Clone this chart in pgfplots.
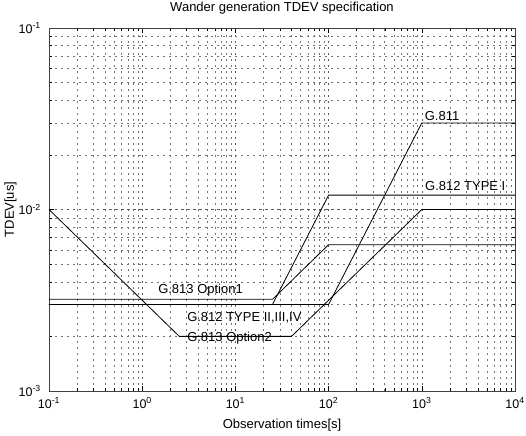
\documentclass[border=0pt]{standalone}
\usepackage{fontspec}
\setmainfont{Liberation Sans}
\usepackage{pgfplots}
\pgfplotsset{compat=1.18}
\usetikzlibrary{calc}
\begin{document}
\begin{tikzpicture}
\begin{axis}[
  scale only axis, width=466pt, height=363pt,
  xmode=log, ymode=log,
  xmin=0.1, xmax=10000, ymin=0.001, ymax=0.1,
  xtick={0.1,1,10,100,1000,10000},
  xticklabels={10\textsuperscript{-1},10\textsuperscript{0},10\textsuperscript{1},10\textsuperscript{2},10\textsuperscript{3},10\textsuperscript{4}},
  ytick={0.001,0.01,0.1},
  yticklabels={10\textsuperscript{-3},10\textsuperscript{-2},10\textsuperscript{-1}},
  tick label style={font=\fontsize{12.5}{14}\selectfont},
  xticklabel style={anchor=base, yshift=-17pt},
  yticklabel style={anchor=east, inner sep=0pt, xshift=-8pt},
  title={Wander generation TDEV specification},
  title style={font=\fontsize{13}{15}\selectfont, at={(axis description cs:0.5,1.0303)}, anchor=base, inner sep=0pt},
  xlabel={Observation times[s]},
  xlabel style={font=\fontsize{13}{15}\selectfont, at={(axis description cs:0.5,-0.1019)}, anchor=base, inner sep=0pt},
  ylabel={TDEV[us]},
  ylabel style={font=\fontsize{13}{15}\selectfont, at={(axis description cs:-0.0751,0.5)}, anchor=base, inner sep=0pt},
  grid=both,
  major grid style={black!65, dash pattern=on 2.5pt off 3.5pt, line width=0.5pt},
  minor grid style={black!55, dash pattern=on 2pt off 4pt, line width=0.45pt},
  tick align=inside,
  axis line style={black!75, line width=0.5pt},
  every tick/.style={black},
  major tick length=5pt, minor tick length=3pt,
  clip=false,
]
% G.811
\addplot[black, line width=0.8pt] coordinates {(0.1,0.003) (100,0.003) (1000,0.03) (10000,0.03)};
% G.812 Type I
\addplot[black, line width=0.8pt] coordinates {(0.1,0.003) (25,0.003) (100,0.012) (10000,0.012)};
% G.813 Option 1
\addplot[black, line width=0.8pt] coordinates {(0.1,0.0032) (25,0.0032) (100,0.0064) (10000,0.0064)};
% G.812 Type II,III,IV / G.813 Option 2
\addplot[black, line width=0.8pt] coordinates {(0.1,0.01) (2.5,0.002) (40,0.002) (1000,0.01) (10000,0.01)};

\node[anchor=west, inner sep=0pt, font=\fontsize{13}{15}\selectfont] at (axis cs:1072,0.0327) {G.811};
\node[anchor=west, inner sep=0pt, font=\fontsize{13}{15}\selectfont] at (axis cs:1081,0.0135) {G.812 TYPE I};
\node[anchor=west, inner sep=0pt, font=\fontsize{13}{15}\selectfont] at (axis cs:1.48,0.0036) {G.813 Option1};
\node[anchor=west, inner sep=0pt, font=\fontsize{13}{15}\selectfont] at (axis cs:3.03,0.00254) {G.812 TYPE II,III,IV};
\node[anchor=west, inner sep=0pt, font=\fontsize{13}{15}\selectfont] at (axis cs:3.03,0.00196) {G.813 Option2};
\end{axis}
\pgfresetboundingbox
\path[use as bounding box] ($(current axis.south west)+(-49pt,-44pt)$) rectangle ($(current axis.north east)+(11pt,28pt)$);
\end{tikzpicture}
\end{document}
